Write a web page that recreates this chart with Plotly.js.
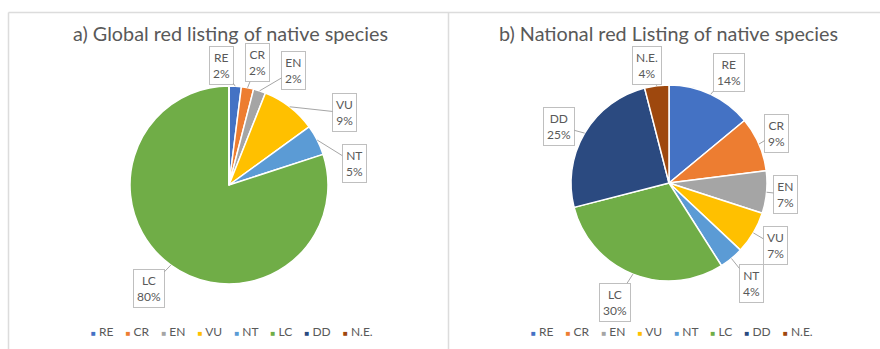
<!DOCTYPE html>
<html><head><meta charset="utf-8">
<script src="https://cdn.plot.ly/plotly-3.0.1.min.js"></script>
<style>html,body{margin:0;padding:0;background:#fff}</style>
</head><body><div id="chart" style="width:880px;height:349px"></div>
<script>
// ---- data ----
const categories = ['RE','CR','EN','VU','NT','LC','DD','N.E.'];
const globalValues = [2,2,2,9,5,80,0,0];
const nationalValues = [14,9,7,7,4,30,25,4];
const colors = ['#4472C4','#ED7D31','#A5A5A5','#FFC000','#5B9BD5','#70AD47','#2B4A80','#9E480E'];
const titles = ['a) Global red listing of native species','b) National red Listing of native species'];

// ---- layout config (pixels) ----
const W = 880, H = 349;
const FONT = 'Lato, "Open Sans", sans-serif';
const TXT = '#595959';
const panels = [
  {values: globalValues, cx: 229, cy: 185, r: 99, tx: 230, lx: 232,
   offsets: {RE:[-14,-21], CR:[10,-25], EN:[34,-20], VU:[55,6], NT:[37,23], LC:[-22,23]}},
  {values: nationalValues, cx: 669, cy: 183, r: 98, tx: 668, lx: 672,
   offsets: {RE:[18,-22], CR:[18,-11], EN:[19,2], VU:[22,13], NT:[20,25], LC:[-18,28], DD:[-26,-7], 'N.E.':[-10,-20]}}
];
const px = x => x / W, py = y => 1 - y / H;

const traces = [];
const annotations = [];
panels.forEach((p, i) => {
  traces.push({
    type: 'pie', labels: categories, values: p.values, sort: false,
    direction: 'clockwise', rotation: 0, textinfo: 'none', showlegend: false,
    marker: {colors: colors, line: {color: '#ffffff', width: 1.5}},
    domain: {x: [px(p.cx - p.r), px(p.cx + p.r)], y: [py(p.cy + p.r), py(p.cy - p.r)]},
    hoverinfo: 'label+percent'
  });
  // title
  annotations.push({xref: 'paper', yref: 'paper', x: px(p.tx), y: py(33), showarrow: false,
    text: titles[i], font: {family: FONT, size: 19.8, color: TXT}, xanchor: 'center', yanchor: 'middle'});
  // callouts
  const total = p.values.reduce((a, b) => a + b, 0);
  let cum = 0;
  p.values.forEach((v, k) => {
    const mid = (cum + v / 2) / total * 2 * Math.PI;
    cum += v;
    if (v <= 0) return;
    const off = p.offsets[categories[k]] || [0, -20];
    const ax = p.cx + p.r * Math.sin(mid), ay = p.cy - p.r * Math.cos(mid);
    annotations.push({xref: 'paper', yref: 'paper', x: px(ax), y: py(ay),
      ax: off[0], ay: off[1], showarrow: true, arrowhead: 0, arrowwidth: 1, arrowcolor: '#a6a6a6', standoff: 0,
      text: categories[k] + '<br>' + Math.round(v / total * 100) + '%',
      font: {family: FONT, size: 12, color: TXT}, align: 'center',
      bordercolor: '#bfbfbf', borderwidth: 1, borderpad: 3, bgcolor: '#ffffff'});
  });
  // legend
  const items = categories.map((c, k) =>
    '<span style="color:' + colors[k] + ';font-size:8px">■</span>\u00a0' + c).join('\u00a0\u00a0\u00a0\u00a0');
  annotations.push({xref: 'paper', yref: 'paper', x: px(p.lx), y: py(331), showarrow: false,
    text: items, font: {family: FONT, size: 12, color: TXT}, xanchor: 'center', yanchor: 'middle'});
});

const lineStyle = {color: '#dcdcdc', width: 1.5};
const shapes = [
  {type: 'line', xref: 'paper', yref: 'paper', x0: px(8.5), x1: 1, y0: py(12.5), y1: py(12.5), line: lineStyle},
  {type: 'line', xref: 'paper', yref: 'paper', x0: px(8.5), x1: px(8.5), y0: py(12.5), y1: 0, line: lineStyle},
  {type: 'line', xref: 'paper', yref: 'paper', x0: px(448.5), x1: px(448.5), y0: py(12.5), y1: 0, line: lineStyle}
];

Plotly.newPlot('chart', traces, {
  width: W, height: H, margin: {l: 0, r: 0, t: 0, b: 0},
  paper_bgcolor: '#ffffff', font: {family: FONT, color: TXT},
  annotations: annotations, shapes: shapes, showlegend: false
}, {displayModeBar: false, staticPlot: true});
</script></body></html>
